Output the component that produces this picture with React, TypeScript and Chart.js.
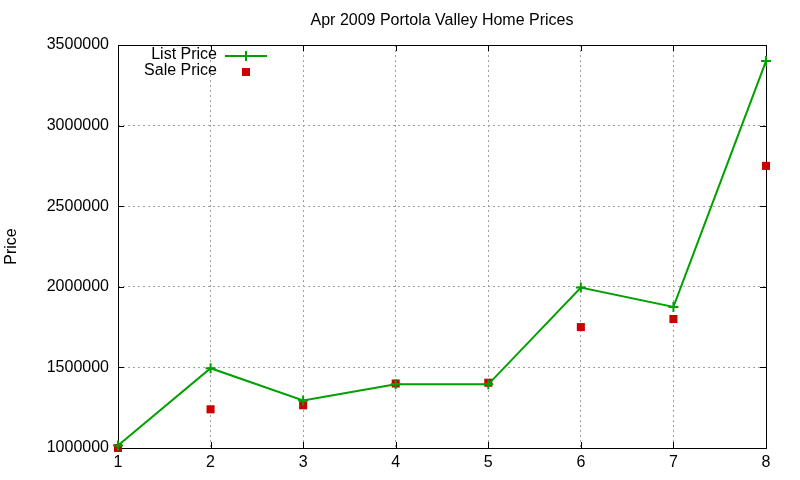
import React, { useEffect, useRef } from "react";
import { Chart, registerables, Plugin } from "chart.js";

Chart.register(...registerables);

const houses = [1, 2, 3, 4, 5, 6, 7, 8];
const listPrices = [1015000, 1495000, 1295000, 1395000, 1395000, 1995000, 1875000, 3400000];
const salePrices = [1000000, 1240000, 1265000, 1400000, 1405000, 1750000, 1800000, 2750000];
const yTicks = [1000000, 1500000, 2000000, 2500000, 3000000, 3500000];

const TITLE = "Apr 2009 Portola Valley Home Prices";
const GREEN = "#00a000";
const RED = "#cc0000";
const FONT = "Liberation Sans, Arial, sans-serif";

// gnuplot-ish frame: full border box, inward ticks on all four sides, title and in-plot key
const framePlugin: Plugin<"line"> = {
    id: "frame",
    beforeDatasetsDraw(chart) {
        const { ctx, chartArea: a, scales } = chart;
        ctx.save();
        ctx.strokeStyle = "#000";
        ctx.lineWidth = 1;
        ctx.beginPath();
        for (const v of yTicks) {
            const y = Math.round(scales.y.getPixelForValue(v)) + 0.5;
            ctx.moveTo(a.left, y);
            ctx.lineTo(a.left + 6, y);
            ctx.moveTo(a.right - 6, y);
            ctx.lineTo(a.right, y);
        }
        for (const v of houses) {
            const x = Math.round(scales.x.getPixelForValue(v)) + 0.5;
            ctx.moveTo(x, a.bottom);
            ctx.lineTo(x, a.bottom - 6);
            ctx.moveTo(x, a.top);
            ctx.lineTo(x, a.top + 6);
        }
        ctx.stroke();
        ctx.strokeRect(Math.round(a.left) + 0.5, Math.round(a.top) + 0.5, Math.round(a.right - a.left), Math.round(a.bottom - a.top));
        ctx.restore();
    },
    afterDraw(chart) {
        const { ctx, chartArea: a } = chart;
        ctx.save();
        ctx.fillStyle = "#000";
        ctx.font = `16px ${FONT}`;
        ctx.textBaseline = "middle";
        ctx.textAlign = "center";
        ctx.fillText(TITLE, (a.left + a.right) / 2, 21);

        // key
        const labels = chart.data.datasets.map((d) => d.label as string);
        const kx = a.left + 99;
        const y1 = a.top + 11;
        const y2 = a.top + 27;
        ctx.textAlign = "right";
        ctx.fillText(labels[0], kx, y1 - 1);
        ctx.fillText(labels[1], kx, y2 - 1);

        ctx.strokeStyle = GREEN;
        ctx.lineWidth = 2;
        ctx.beginPath();
        ctx.moveTo(kx + 8, y1);
        ctx.lineTo(kx + 50, y1);
        ctx.moveTo(kx + 29, y1 - 5);
        ctx.lineTo(kx + 29, y1 + 5);
        ctx.stroke();

        ctx.fillStyle = RED;
        ctx.fillRect(kx + 25, y2 - 4, 8, 8);
        ctx.restore();
    },
};

const App: React.FC = () => {
    const canvasRef = useRef<HTMLCanvasElement | null>(null);

    useEffect(() => {
        document.body.style.margin = "0";
        const ctx = canvasRef.current?.getContext("2d");
        if (!ctx) return;

        const chart = new Chart(ctx, {
            type: "line",
            data: {
                datasets: [
                    {
                        label: "List Price",
                        data: houses.map((h, i) => ({ x: h, y: listPrices[i] })),
                        borderColor: GREEN,
                        backgroundColor: GREEN,
                        borderWidth: 2,
                        pointStyle: "cross",
                        pointRadius: 5,
                        pointBorderWidth: 2,
                        pointBorderColor: GREEN,
                        tension: 0,
                        clip: false,
                    },
                    {
                        label: "Sale Price",
                        data: houses.map((h, i) => ({ x: h, y: salePrices[i] })),
                        showLine: false,
                        pointStyle: "rect",
                        pointRadius: 5.7,
                        pointBorderWidth: 0,
                        backgroundColor: RED,
                        borderColor: RED,
                        clip: false,
                    },
                ],
            },
            options: {
                animation: false,
                responsive: false,
                events: [],
                layout: {
                    padding: { top: 45, right: 34, left: 0, bottom: 0 },
                },
                plugins: {
                    legend: { display: false },
                    title: { display: false },
                    tooltip: { enabled: false },
                },
                scales: {
                    x: {
                        type: "linear",
                        min: 1,
                        max: 8,
                        afterFit: (scale) => {
                            scale.height = 32;
                        },
                        ticks: {
                            stepSize: 1,
                            padding: 5,
                            color: "#000",
                            font: { family: FONT, size: 16 },
                        },
                        grid: {
                            color: "#a0a0a0",
                            drawTicks: false,
                        },
                        border: {
                            display: false,
                            dash: [2, 3],
                        },
                    },
                    y: {
                        min: 1000000,
                        max: 3500000,
                        afterFit: (scale) => {
                            scale.width = 118;
                        },
                        ticks: {
                            stepSize: 500000,
                            padding: 9,
                            color: "#000",
                            font: { family: FONT, size: 16 },
                            callback: (value) => String(value),
                        },
                        grid: {
                            color: "#a0a0a0",
                            drawTicks: false,
                        },
                        border: {
                            display: false,
                            dash: [2, 3],
                        },
                        title: {
                            display: true,
                            text: "Price",
                            color: "#000",
                            font: { family: FONT, size: 16 },
                            padding: { top: 2, bottom: 0 },
                        },
                    },
                },
            },
            plugins: [framePlugin],
        });

        return () => {
            chart.destroy();
        };
    }, []);

    return (
        <div style={{ width: 800, height: 480, background: "#fff" }}>
            <canvas ref={canvasRef} width={800} height={480}></canvas>
        </div>
    );
};

export default App;
